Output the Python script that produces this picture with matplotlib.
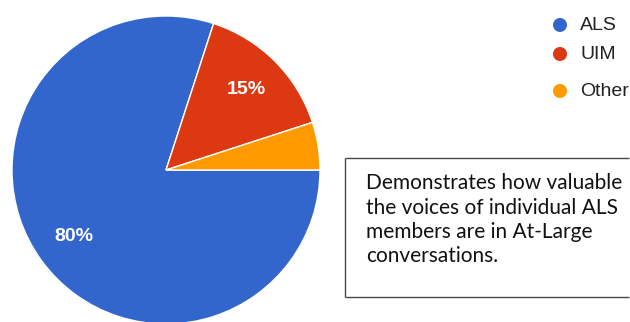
import matplotlib
matplotlib.use("Agg")
import matplotlib.pyplot as plt
from matplotlib.patches import Circle

# Survey breakdown
categories = ["ALS", "UIM", "Other"]
shares = [80, 15, 5]
colors = ["#3366cc", "#dc3912", "#ff9900"]

note_lines = [
    "Demonstrates how valuable",
    "the voices of individual ALS",
    "members are in At-Large",
    "conversations.",
]

W, H = 630, 322
fig = plt.figure(figsize=(W / 100, H / 100), dpi=100)
fig.patch.set_facecolor("white")

# Pie placed in pixel units: centre (166, 170) from top, radius 154
cx, cy, r = 166, 170, 154
ax = fig.add_axes([(cx - r) / W, (H - cy - r) / H, 2 * r / W, 2 * r / H])


def pct_label(p):
    return f"{p:.0f}%" if p >= 10 else ""


wedges, texts, autotexts = ax.pie(
    shares,
    colors=colors,
    startangle=0,
    counterclock=False,
    radius=1,
    autopct=pct_label,
    pctdistance=0.74,
    wedgeprops=dict(edgecolor="white", linewidth=1),
    textprops=dict(color="white", fontsize=14, family="Liberation Sans",
                   fontweight="bold"),
)
ax.set_xlim(-1, 1)
ax.set_ylim(-1, 1)
ax.set_aspect("auto")
ax.axis("off")

# Overlay in pixel coordinates for legend and note box
ov = fig.add_axes([0, 0, 1, 1])
ov.set_xlim(0, W)
ov.set_ylim(H, 0)
ov.set_autoscale_on(False)
ov.axis("off")
ov.patch.set_alpha(0)

legend_y = [25, 54, 91]
for name, col, y in zip(categories, colors, legend_y):
    ov.add_patch(Circle((560, y), 7, color=col, lw=0))
    ov.text(580, y, name, fontsize=14, family="Liberation Sans",
            color="#222222", va="center", ha="left")

# Note box: left, top and bottom edges (open on the right side)
box_l, box_t, box_b = 345, 157.5, 297
edge = dict(color="#4a4a4a", lw=1.0, solid_capstyle="butt")
ov.plot([box_l, box_l], [box_t, box_b], **edge)
ov.plot([box_l, W - 1], [box_t, box_t], **edge)
ov.plot([box_l, W - 1], [box_b, box_b], **edge)

baselines = [189, 213.5, 238, 262]
for line, yb in zip(note_lines, baselines):
    ov.text(366, yb, line, fontsize=15, family="Lato", color="#111111",
            va="baseline", ha="left")

fig.savefig("out.png", dpi=100)
